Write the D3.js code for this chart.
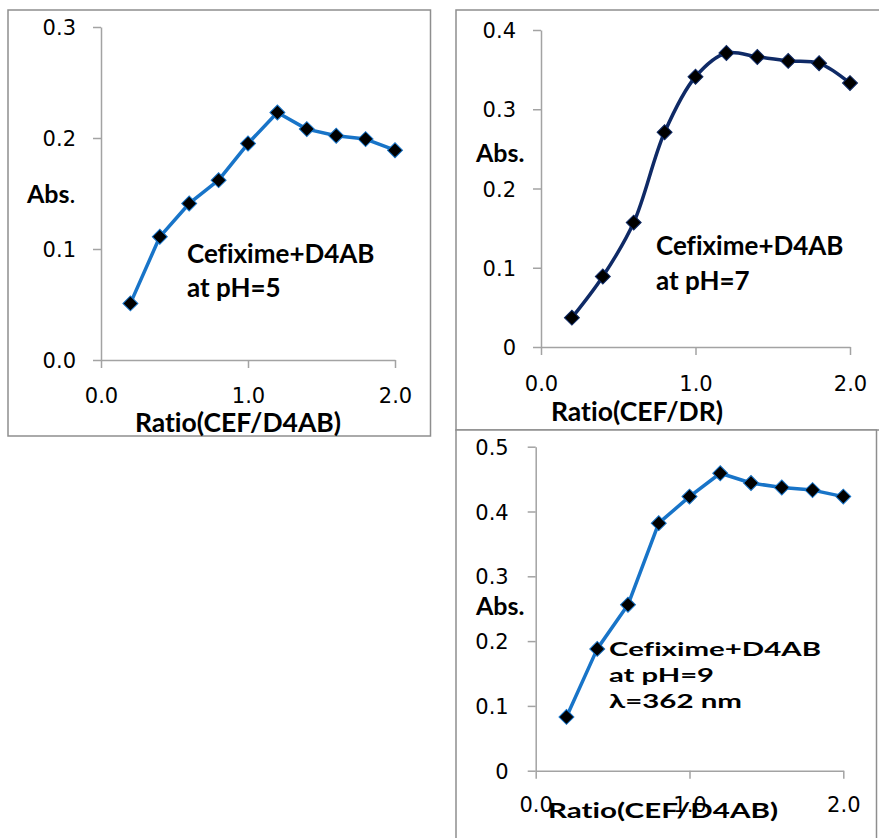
<!DOCTYPE html>
<html>
<head>
<meta charset="utf-8">
<script src="https://cdn.jsdelivr.net/npm/d3@7"></script>
<style>
  body { margin: 0; background: #fff; }
  svg { display: block; }
  text { font-variant-ligatures: none !important; font-feature-settings: "liga" 0, "clig" 0; }
</style>
</head>
<body>
<svg width="879" height="838"></svg>
<script>
// mole ratio data
const ratios = [0.2, 0.4, 0.6, 0.8, 1.0, 1.2, 1.4, 1.6, 1.8, 2.0];
const absPH5 = [0.051, 0.111, 0.141, 0.162, 0.195, 0.223, 0.208, 0.202, 0.199, 0.189];
const absPH7 = [0.037, 0.089, 0.157, 0.271, 0.341, 0.371, 0.366, 0.361, 0.358, 0.333];
const absPH9 = [0.083, 0.188, 0.256, 0.382, 0.423, 0.459, 0.444, 0.437, 0.433, 0.423];

const xTicks = [0, 1, 2];
const yTicksPH5 = [0, 0.1, 0.2, 0.3];
const yTicksPH7 = [0, 0.1, 0.2, 0.3, 0.4];
const yTicksPH9 = [0, 0.1, 0.2, 0.3, 0.4, 0.5];

const svg = d3.select("svg");
const axisColor = "#a3a3a3";
const frameColor = "#8e8e8e";
const font = "Lato, 'Open Sans', sans-serif";
const tickFont = "21px 'DejaVu Sans', sans-serif";

// chart frames
svg.append("rect")
  .attr("x", 8).attr("y", 10).attr("width", 422.5).attr("height", 426)
  .attr("fill", "#fff").attr("stroke", frameColor).attr("stroke-width", 1.5);

svg.append("rect")
  .attr("x", 456).attr("y", 10).attr("width", 440).attr("height", 420)
  .attr("fill", "#fff").attr("stroke", frameColor).attr("stroke-width", 1.5);

function drawPanel(opts) {
  const x = d3.scaleLinear().domain([0, 2]).range(opts.xRange);
  const y = d3.scaleLinear().domain(opts.yDomain).range(opts.yRange);
  const g = svg.append("g");

  const yAxis = g.append("g")
    .attr("transform", `translate(${opts.xRange[0]},0)`)
    .call(d3.axisLeft(y).tickValues(opts.yTicks).tickSize(8).tickSizeOuter(0)
      .tickFormat(opts.yFormat));
  yAxis.select(".domain").attr("stroke", axisColor).attr("stroke-width", 1.5);
  yAxis.selectAll(".tick line").attr("stroke", axisColor).attr("stroke-width", 1.5);
  yAxis.selectAll("text")
    .attr("x", -opts.yLabelGap).attr("dy", "0.36em")
    .attr("fill", "#000").style("font", tickFont);

  const xAxis = g.append("g")
    .attr("transform", `translate(0,${opts.yRange[0]})`)
    .call(d3.axisBottom(x).tickValues(xTicks).tickSize(8).tickSizeOuter(0)
      .tickFormat(d3.format(".1f")));
  xAxis.select(".domain").attr("stroke", axisColor).attr("stroke-width", 1.5);
  xAxis.selectAll(".tick line").attr("stroke", axisColor).attr("stroke-width", 1.5);
  xAxis.selectAll("text")
    .attr("y", opts.xLabelGap).attr("dy", "0.36em")
    .attr("fill", "#000").style("font", tickFont);

  const line = d3.line()
    .x((d, i) => x(ratios[i]))
    .y(d => y(d))
    .curve(opts.curve);

  g.append("path")
    .datum(opts.values)
    .attr("d", line)
    .attr("fill", "none")
    .attr("stroke", opts.color)
    .attr("stroke-width", 3.5)
    .attr("stroke-linejoin", "round");

  g.selectAll(".pt")
    .data(opts.values)
    .join("path")
    .attr("class", "pt")
    .attr("d", d3.symbol(d3.symbolSquare, 112)())
    .attr("transform", (d, i) => `translate(${x(ratios[i])},${y(d)}) rotate(45)`)
    .attr("fill", "#000")
    .attr("stroke", opts.color)
    .attr("stroke-width", 1);

  return g;
}

function label(g, txt, x, y, size, anchor) {
  return g.append("text")
    .attr("x", x).attr("y", y)
    .attr("text-anchor", anchor || "start")
    .style("font", `bold ${size}px ${font}`)
    .style("font-variant-ligatures", "none")
    .text(txt);
}

// pH = 5
const p1 = drawPanel({
  xRange: [101, 395], yRange: [360, 27], yDomain: [0, 0.3],
  yTicks: yTicksPH5, yFormat: d3.format(".1f"),
  yLabelGap: 25, xLabelGap: 35,
  values: absPH5, color: "#1874c8", curve: d3.curveLinear
});
const abs1 = label(p1, "Abs", 27, 203, 25);
abs1.append("tspan").style("font-weight", "normal").text(".");
label(p1, "Cefixime+D4AB", 187, 263, 26);
label(p1, "at pH=5", 187, 297, 26);
label(p1, "Ratio(CEF/D4AB)", 238, 432, 26.5, "middle");

// pH = 7
const p2 = drawPanel({
  xRange: [541, 850], yRange: [347, 30], yDomain: [0, 0.4],
  yTicks: yTicksPH7, yFormat: d => d === 0 ? "0" : d3.format(".1f")(d),
  yLabelGap: 25, xLabelGap: 36,
  values: absPH7, color: "#0f2a66", curve: d3.curveCatmullRom.alpha(0.5)
});
label(p2, "Abs.", 476, 162, 25);
label(p2, "Cefixime+D4AB", 656, 255, 26);
label(p2, "at pH=7", 656, 290, 26);
label(p2, "Ratio(CEF/DR)", 637, 421, 26.5, "middle");

// pH = 9
svg.append("rect")
  .attr("x", 456).attr("y", 430).attr("width", 420.5).attr("height", 440)
  .attr("fill", "#fff").attr("stroke", frameColor).attr("stroke-width", 1.5);

const p3 = drawPanel({
  xRange: [535.7, 843.3], yRange: [770.7, 446.7], yDomain: [0, 0.5],
  yTicks: yTicksPH9, yFormat: d => d === 0 ? "0" : d3.format(".1f")(d),
  yLabelGap: 27, xLabelGap: 34,
  values: absPH9, color: "#1874c8", curve: d3.curveLinear
});
label(p3, "Abs.", 476, 615, 25);
const note3 = [["Cefixime+D4AB", 655.7, 212], ["at pH=9", 681.7, 105], ["λ=362 nm", 707.7, 133]];
note3.forEach(([t, yy, w]) => {
  label(p3, t, 609, yy, 19)
    .attr("textLength", w).attr("lengthAdjust", "spacingAndGlyphs");
});
label(p3, "Ratio(CEF/D4AB)", 548, 818, 21)
  .attr("textLength", 230).attr("lengthAdjust", "spacingAndGlyphs");
</script>
</body>
</html>
